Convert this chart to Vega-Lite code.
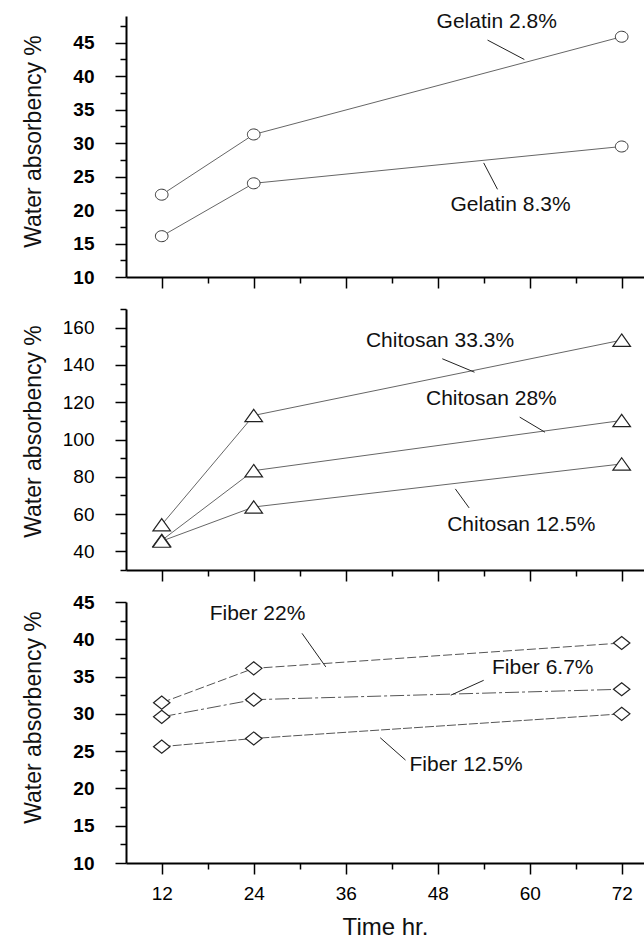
{
  "$schema": "https://vega.github.io/schema/vega-lite/v6.json",
  "autosize": {"type": "pad"},
  "padding": {"left": 22, "top": 11, "right": 0, "bottom": 0},
  "background": "white",
  "spacing": 32,
  "bounds": "flush",
  "config": {
    "view": {"stroke": null},
    "font": "Liberation Sans",
    "axis": {
      "grid": false,
      "domainColor": "#000",
      "domainWidth": 2,
      "tickColor": "#000",
      "tickWidth": 1.5,
      "labelColor": "#000",
      "labelFont": "Liberation Sans",
      "labelFontSize": 19,
      "titleFont": "Liberation Sans",
      "titleColor": "#111",
      "titleFontWeight": "normal"
    }
  },
  "datasets": {
    "series": [
      {"panel": "gel", "series": "Gelatin 2.8%", "t": 12, "v": 22.3},
      {"panel": "gel", "series": "Gelatin 2.8%", "t": 24, "v": 31.3},
      {"panel": "gel", "series": "Gelatin 2.8%", "t": 72, "v": 45.9},
      {"panel": "gel", "series": "Gelatin 8.3%", "t": 12, "v": 16.1},
      {"panel": "gel", "series": "Gelatin 8.3%", "t": 24, "v": 24.0},
      {"panel": "gel", "series": "Gelatin 8.3%", "t": 72, "v": 29.5},
      {"panel": "chi", "series": "Chitosan 33.3%", "t": 12, "v": 54.3},
      {"panel": "chi", "series": "Chitosan 33.3%", "t": 24, "v": 112.9},
      {"panel": "chi", "series": "Chitosan 33.3%", "t": 72, "v": 153.3},
      {"panel": "chi", "series": "Chitosan 28%", "t": 12, "v": 45.9},
      {"panel": "chi", "series": "Chitosan 28%", "t": 24, "v": 83.3},
      {"panel": "chi", "series": "Chitosan 28%", "t": 72, "v": 110.2},
      {"panel": "chi", "series": "Chitosan 12.5%", "t": 12, "v": 45.5},
      {"panel": "chi", "series": "Chitosan 12.5%", "t": 24, "v": 63.8},
      {"panel": "chi", "series": "Chitosan 12.5%", "t": 72, "v": 86.9},
      {"panel": "fib", "series": "Fiber 22%", "t": 12, "v": 31.5},
      {"panel": "fib", "series": "Fiber 22%", "t": 24, "v": 36.1},
      {"panel": "fib", "series": "Fiber 22%", "t": 72, "v": 39.5},
      {"panel": "fib", "series": "Fiber 6.7%", "t": 12, "v": 29.6},
      {"panel": "fib", "series": "Fiber 6.7%", "t": 24, "v": 31.9},
      {"panel": "fib", "series": "Fiber 6.7%", "t": 72, "v": 33.3},
      {"panel": "fib", "series": "Fiber 12.5%", "t": 12, "v": 25.6},
      {"panel": "fib", "series": "Fiber 12.5%", "t": 24, "v": 26.7},
      {"panel": "fib", "series": "Fiber 12.5%", "t": 72, "v": 30.0}
    ],
    "labels": [
      {"panel": "gel", "label": "Gelatin 2.8%", "t": 55.7, "v": 48.1},
      {"panel": "gel", "label": "Gelatin 8.3%", "t": 57.5, "v": 20.7},
      {"panel": "chi", "label": "Chitosan 33.3%", "t": 48.3, "v": 152.8},
      {"panel": "chi", "label": "Chitosan 28%", "t": 55.0, "v": 121.9},
      {"panel": "chi", "label": "Chitosan 12.5%", "t": 58.9, "v": 54.3},
      {"panel": "fib", "label": "Fiber 22%", "t": 24.5, "v": 43.35},
      {"panel": "fib", "label": "Fiber 6.7%", "t": 61.7, "v": 36.1},
      {"panel": "fib", "label": "Fiber 12.5%", "t": 51.7, "v": 23.1}
    ],
    "leaders": [
      {"panel": "gel", "t": 54.5, "v": 45.4, "t2": 59.3, "v2": 42.5},
      {"panel": "gel", "t": 54.0, "v": 27.05, "t2": 55.8, "v2": 23.1},
      {"panel": "chi", "t": 48.6, "v": 143.3, "t2": 52.8, "v2": 136.1},
      {"panel": "chi", "t": 58.7, "v": 112.0, "t2": 62.0, "v2": 103.9},
      {"panel": "chi", "t": 50.3, "v": 73.5, "t2": 52.1, "v2": 63.3},
      {"panel": "fib", "t": 30.3, "v": 40.8, "t2": 33.4, "v2": 36.3},
      {"panel": "fib", "t": 54.0, "v": 34.5, "t2": 49.7, "v2": 32.5},
      {"panel": "fib", "t": 40.5, "v": 26.8, "t2": 43.8, "v2": 23.8}
    ]
  },
  "vconcat": [
    {
      "width": 518,
      "height": 261,
      "encoding": {
        "x": {
          "field": "t", "type": "quantitative",
          "scale": {"domain": [7.34, 74.91], "nice": false, "zero": false},
          "axis": {
            "title": null,
            "values": [12, 18, 24, 30, 36, 42, 48, 54, 60, 66, 72],
            "labels": false,
            "tickSize": {"condition": {"test": "datum.value % 12 === 0", "value": 11}, "value": 6}
          }
        },
        "y": {
          "field": "v", "type": "quantitative",
          "scale": {"domain": [10, 49], "nice": false, "zero": false},
          "axis": {
            "title": "Water absorbency %",
            "titleFontSize": 23,
            "titleBaseline": "alphabetic",
            "titleX": -85.5,
            "titleY": 125,
            "titleAlign": "center",
            "values": [10, 12.5, 15, 17.5, 20, 22.5, 25, 27.5, 30, 32.5, 35, 37.5, 40, 42.5, 45, 47.5],
            "labelExpr": "datum.value % 5 === 0 ? datum.label : ''",
            "labelFontWeight": "bold",
            "labelPadding": 21,
            "tickSize": {"condition": {"test": "datum.value % 5 === 0", "value": 11}, "value": 6}
          }
        }
      },
      "layer": [
        {
          "data": {"name": "series"},
          "transform": [{"filter": "datum.panel === 'gel'"}],
          "mark": {"type": "line", "color": "#666", "strokeWidth": 1},
          "encoding": {"detail": {"field": "series"}}
        },
        {
          "data": {"name": "series"},
          "transform": [{"filter": "datum.panel === 'gel'"}],
          "mark": {"type": "point", "shape": "M-1,0A1,0.87,0,1,1,1,0A1,0.87,0,1,1,-1,0Z", "size": 160, "filled": true, "fill": "white", "stroke": "#333", "strokeWidth": 1, "opacity": 1},
          "encoding": {}
        },
        {
          "data": {"name": "leaders"},
          "transform": [{"filter": "datum.panel === 'gel'"}],
          "mark": {"type": "rule", "color": "#222", "strokeWidth": 1},
          "encoding": {"x2": {"field": "t2"}, "y2": {"field": "v2"}}
        },
        {
          "data": {"name": "labels"},
          "transform": [{"filter": "datum.panel === 'gel'"}],
          "mark": {"type": "text", "fontSize": 21, "color": "#111", "align": "center", "baseline": "middle"},
          "encoding": {"text": {"field": "label"}}
        }
      ]
    },
    {
      "width": 518,
      "height": 261,
      "encoding": {
        "x": {
          "field": "t", "type": "quantitative",
          "scale": {"domain": [7.34, 74.91], "nice": false, "zero": false},
          "axis": {
            "title": null,
            "values": [12, 18, 24, 30, 36, 42, 48, 54, 60, 66, 72],
            "labels": false,
            "tickSize": {"condition": {"test": "datum.value % 12 === 0", "value": 11}, "value": 6}
          }
        },
        "y": {
          "field": "v", "type": "quantitative",
          "scale": {"domain": [30, 170], "nice": false, "zero": false},
          "axis": {
            "title": "Water absorbency %",
            "titleFontSize": 23,
            "titleBaseline": "alphabetic",
            "titleX": -85.5,
            "titleY": 122,
            "titleAlign": "center",
            "values": [30, 40, 50, 60, 70, 80, 90, 100, 110, 120, 130, 140, 150, 160, 170],
            "labelExpr": "datum.value % 20 === 0 ? datum.label : ''",
            "labelPadding": 21,
            "tickSize": {"condition": {"test": "datum.value % 20 === 0", "value": 11}, "value": 6}
          }
        }
      },
      "layer": [
        {
          "data": {"name": "series"},
          "transform": [{"filter": "datum.panel === 'chi'"}],
          "mark": {"type": "line", "color": "#666", "strokeWidth": 1},
          "encoding": {"detail": {"field": "series"}}
        },
        {
          "data": {"name": "series"},
          "transform": [{"filter": "datum.panel === 'chi'"}],
          "mark": {"type": "point", "shape": "M0,-0.7L1,0.7L-1,0.7Z", "size": 310, "filled": true, "fill": "white", "stroke": "#222", "strokeWidth": 1.2, "opacity": 1},
          "encoding": {}
        },
        {
          "data": {"name": "leaders"},
          "transform": [{"filter": "datum.panel === 'chi'"}],
          "mark": {"type": "rule", "color": "#222", "strokeWidth": 1},
          "encoding": {"x2": {"field": "t2"}, "y2": {"field": "v2"}}
        },
        {
          "data": {"name": "labels"},
          "transform": [{"filter": "datum.panel === 'chi'"}],
          "mark": {"type": "text", "fontSize": 21, "color": "#111", "align": "center", "baseline": "middle"},
          "encoding": {"text": {"field": "label"}}
        }
      ]
    },
    {
      "width": 518,
      "height": 261,
      "encoding": {
        "x": {
          "field": "t", "type": "quantitative",
          "scale": {"domain": [7.34, 74.91], "nice": false, "zero": false},
          "axis": {
            "title": "Time hr.",
            "titleFontSize": 24,
            "titleBaseline": "alphabetic",
            "titleY": 71,
            "values": [12, 18, 24, 30, 36, 42, 48, 54, 60, 66, 72],
            "labelExpr": "datum.value % 12 === 0 ? datum.label : ''",
            "labelPadding": 10,
            "tickSize": {"condition": {"test": "datum.value % 12 === 0", "value": 11}, "value": 6}
          }
        },
        "y": {
          "field": "v", "type": "quantitative",
          "scale": {"domain": [10, 45], "nice": false, "zero": false},
          "axis": {
            "title": "Water absorbency %",
            "titleFontSize": 23,
            "titleBaseline": "alphabetic",
            "titleX": -85.5,
            "titleY": 115,
            "titleAlign": "center",
            "values": [10, 12.5, 15, 17.5, 20, 22.5, 25, 27.5, 30, 32.5, 35, 37.5, 40, 42.5, 45],
            "labelExpr": "datum.value % 5 === 0 ? datum.label : ''",
            "labelFontWeight": "bold",
            "labelPadding": 21,
            "tickSize": {"condition": {"test": "datum.value % 5 === 0", "value": 11}, "value": 6}
          }
        }
      },
      "layer": [
        {
          "data": {"name": "series"},
          "transform": [{"filter": "datum.panel === 'fib'"}],
          "mark": {"type": "line", "color": "#555", "strokeWidth": 1},
          "encoding": {
            "detail": {"field": "series"},
            "strokeDash": {
              "field": "series", "type": "nominal", "legend": null,
              "scale": {"domain": ["Fiber 22%", "Fiber 6.7%", "Fiber 12.5%"], "range": [[9, 3], [14, 3, 3, 3], [9, 2]]}
            }
          }
        },
        {
          "data": {"name": "series"},
          "transform": [{"filter": "datum.panel === 'fib'"}],
          "mark": {"type": "point", "shape": "M-1,0L0,-0.8L1,0L0,0.8Z", "size": 269, "filled": true, "fill": "white", "stroke": "#222", "strokeWidth": 1.2, "opacity": 1},
          "encoding": {}
        },
        {
          "data": {"name": "leaders"},
          "transform": [{"filter": "datum.panel === 'fib'"}],
          "mark": {"type": "rule", "color": "#222", "strokeWidth": 1},
          "encoding": {"x2": {"field": "t2"}, "y2": {"field": "v2"}}
        },
        {
          "data": {"name": "labels"},
          "transform": [{"filter": "datum.panel === 'fib'"}],
          "mark": {"type": "text", "fontSize": 21, "color": "#111", "align": "center", "baseline": "middle"},
          "encoding": {"text": {"field": "label"}}
        }
      ]
    }
  ]
}
